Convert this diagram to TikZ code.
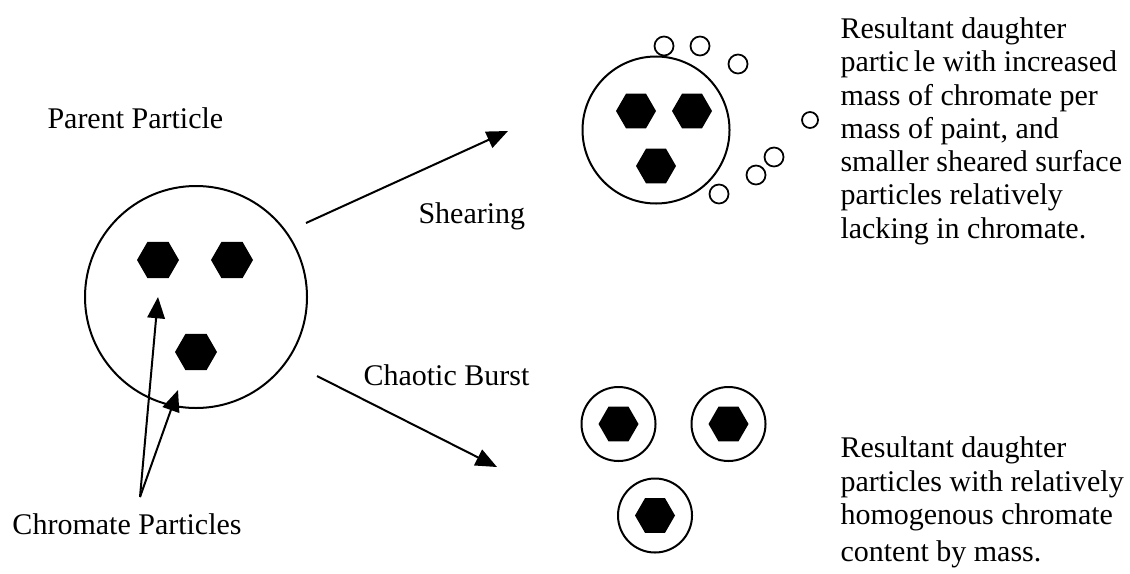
\documentclass[tikz,border=0pt]{standalone}
\usepackage{fontspec}
\setmainfont{Liberation Serif}
\usetikzlibrary{shapes.geometric, arrows.meta, positioning}
\tikzstyle{particle} = [draw, circle, line width=0.8pt, inner sep=0pt]
\tikzstyle{chromate} = [fill=black, regular polygon, regular polygon sides=6, minimum size=16.8pt, inner sep=0pt]
\tikzstyle{fragment} = [draw, circle, line width=0.7pt, inner sep=0pt, minimum size=7.6pt]
\tikzstyle{flow} = [line width=0.8pt, -{Triangle[length=8.5pt,width=7pt]}]
\tikzstyle{note} = [inner sep=0pt, anchor=base west, align=left, font=\fontsize{12}{13.3}\selectfont]

\begin{document}
\begin{tikzpicture}[x=0.4pt, y=-0.4pt]
	\useasboundingbox (0,0) rectangle (1130,573);
	% parent particle
	\node[particle, minimum size=88.8pt] (parent) at (196,297) {};
	\node[chromate] (hex1) at (158,260) {};
	\node[chromate] (hex2) at (232,260) {};
	\node[chromate] (hex3) at (196,352) {};
	\node[note] (parent label) at (47,128) {Parent Particle};
	\node[note] (chromate label) at (12,534) {Chromate Particles};
	\coordinate (pointer) at (140,497);
	\coordinate (tip1) at (158,297);
	\coordinate (tip2) at (178,390);
	\draw[flow] (pointer) -- (tip1);
	\draw[flow] (pointer) -- (tip2);
	% shearing
	\coordinate (shear start) at (306,223);
	\coordinate (shear end) at (508,131);
	\draw[flow] (shear start) -- (shear end);
	\node[note] (shear label) at (418,223) {Shearing};
	\node[particle, minimum size=58.8pt] (sheared) at (656,130) {};
	\node[chromate, minimum size=16pt] (shex1) at (636,111) {};
	\node[chromate, minimum size=16pt] (shex2) at (692,111) {};
	\node[chromate, minimum size=16pt] (shex3) at (656,166) {};
	\foreach \x/\y [count=\i] in {664/46, 700/46, 738/64, 774/157, 756/175, 719/194}
		\node[fragment] (frag\i) at (\x,\y) {};
	\node[fragment, minimum size=6.4pt] (frag7) at (810,120) {};
	\node[note] (shear result) at (840,238) {Resultant daughter\\partic\kern2pt le with increased\\mass of chromate per\\mass of paint, and\\smaller sheared surface\\particles relatively\\lacking in chromate.};
	% chaotic burst
	\coordinate (burst start) at (317,376);
	\coordinate (burst end) at (497,467);
	\draw[flow] (burst start) -- (burst end);
	\node[note] (burst label) at (363,385) {Chaotic Burst};
	\foreach \x/\y [count=\i] in {618.5/424, 728.5/424, 655/515.5} {
		\node[particle, minimum size=29.6pt] (burst\i) at (\x,\y) {};
		\node[chromate, minimum size=16pt] (bhex\i) at (\x,\y) {};
	}
	\node[note] (burst result) at (840,561) {Resultant daughter\\particles with relatively\\homogenous chromate\\[1.4pt]content by mass.};
\end{tikzpicture}
\end{document}
